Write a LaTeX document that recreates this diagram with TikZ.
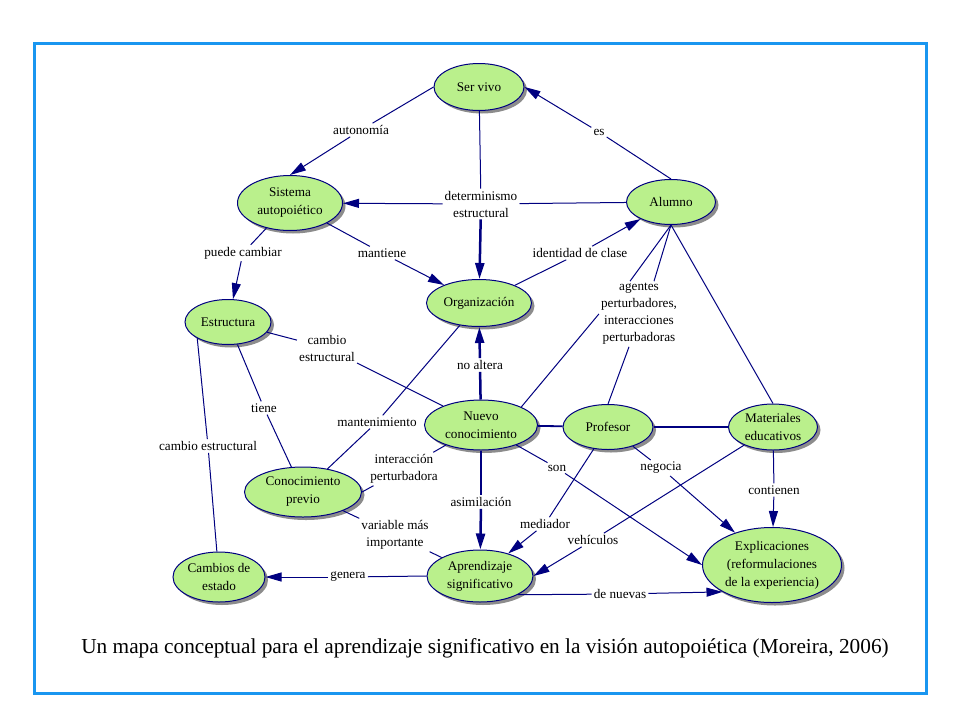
\documentclass[tikz,border=0pt]{standalone}
\usepackage{fontspec}
\setmainfont{Liberation Serif}
\usetikzlibrary{shapes.geometric,shadows,arrows.meta}
\definecolor{mapnavy}{RGB}{0,0,128}
\definecolor{mapgreen}{RGB}{186,240,140}
\definecolor{framecol}{RGB}{25,150,240}
\begin{document}
\begin{tikzpicture}[x=1pt,y=-1pt,
    concept/.style={ellipse,draw=mapnavy,line width=1pt,fill=mapgreen,inner sep=0pt,align=center,
        font=\fontsize{13.2}{18}\selectfont,
        drop shadow={shadow xshift=3pt,shadow yshift=-3pt,fill=black!45,opacity=1}},
    link/.style={inner sep=2pt,align=center,font=\fontsize{13.2}{17}\selectfont},
    rel/.style={draw=mapnavy,line width=1pt},
    relthick/.style={draw=mapnavy,line width=2.5pt},
    >={Triangle[length=16pt,width=9pt]}]
        \fill[white] (0,0) rectangle (960,720);
        \useasboundingbox (0,0) rectangle (960,720);
        \draw[framecol,line width=3pt] (34,43) rectangle (926,693);

        \node[concept,minimum width=90,minimum height=47] (servivo) at (479,87) {Ser vivo};
        \node[concept,minimum width=105,minimum height=55] (sistema) at (290,203) {Sistema\\autopoiético};
        \node[concept,minimum width=89,minimum height=45] (alumno) at (671,202) {Alumno};
        \node[concept,minimum width=105,minimum height=47] (organiz) at (479,303) {Organización};
        \node[concept,minimum width=86,minimum height=45] (estruct) at (228,322) {Estructura};
        \node[concept,minimum width=113,minimum height=50] (nuevo) at (481,425) {Nuevo\\conocimiento};
        \node[concept,minimum width=90,minimum height=45] (profesor) at (608,427) {Profesor};
        \node[concept,minimum width=89,minimum height=46] (material) at (773,427) {Materiales\\educativos};
        \node[concept,minimum width=117,minimum height=50] (previo) at (303,492) {Conocimiento\\previo};
        \node[concept,minimum width=92,minimum height=50] (cambios) at (219,577) {Cambios de\\estado};
        \node[concept,minimum width=106,minimum height=52] (aprend) at (480,576) {Aprendizaje\\significativo};
        \node[concept,minimum width=139,minimum height=75] (explic) at (772,565) {Explicaciones\\(reformulaciones\\de la experiencia)};

        \node[link] (autonomia) at (361,130) {autonomía};
        \node[link] (es) at (599,132) {es};
        \node[link] (determ) at (481,204) {determinismo\\estructural};
        \node[link] (mantiene) at (382,253) {mantiene};
        \node[link] (identidad) at (580,253) {identidad de clase};
        \node[link] (puede) at (243,253) {puede cambiar};
        \node[link] (cambioa) at (327,348) {cambio\\estructural};
        \node[link] (tiene) at (264,408) {tiene};
        \node[link] (cambiob) at (208,446) {cambio estructural};
        \node[link] (manten) at (377,422) {mantenimiento};
        \node[link] (noaltera) at (480,365) {no altera};
        \node[link] (agentes) at (639,314) {agentes\\perturbadores,\\interacciones\\perturbadoras};
        \node[link] (interac) at (404,469) {interacción\\perturbadora};
        \node[link] (variable) at (395,535) {variable más\\importante};
        \node[link] (asimil) at (481,502) {asimilación};
        \node[link] (genera) at (348,577) {genera};
        \node[link] (son) at (557,468) {son};
        \node[link] (negocia) at (661,468) {negocia};
        \node[link] (mediador) at (545,524) {mediador};
        \node[link] (vehic) at (593,540) {vehículos};
        \node[link] (contienen) at (774,490) {contienen};
        \node[link] (denuevas) at (620,594) {de nuevas};

        \draw[rel] (servivo.west) -- (autonomia);
        \draw[rel,->] (autonomia) -- (sistema.north);
        \draw[rel] (alumno.north) -- (es);
        \draw[rel,->] (es) -- (servivo.east);
        \draw[rel] (servivo) -- (determ);
        \draw[rel,->] (determ) -- (sistema);
        \draw[rel] (determ) -- (alumno);
        \draw[relthick,->] (determ) -- (organiz);
        \draw[rel] (sistema) -- (mantiene);
        \draw[rel,->] (mantiene) -- (organiz);
        \draw[rel] (organiz) -- (identidad);
        \draw[rel,->] (identidad) -- (alumno);
        \draw[rel] (sistema) -- (puede);
        \draw[rel,->] (puede) -- (estruct);
        \draw[rel] (estruct) -- (cambioa);
        \draw[rel] (cambioa) -- (nuevo);
        \draw[rel] (estruct) -- (tiene);
        \draw[rel] (tiene) -- (previo);
        \draw[rel] (estruct.south west) -- (cambiob);
        \draw[rel] (cambiob) -- (cambios);
        \draw[rel] (organiz) -- (manten);
        \draw[rel] (manten) -- (previo);
        \draw[relthick] (nuevo) -- (noaltera);
        \draw[relthick,->] (noaltera) -- (organiz);
        \draw[rel] (previo.east) -- (interac);
        \draw[rel] (interac) -- (nuevo);
        \draw[rel] (previo) -- (variable);
        \draw[rel] (variable) -- (aprend);
        \draw[relthick] (nuevo) -- (asimil);
        \draw[relthick,->] (asimil) -- (aprend);
        \draw[rel] (aprend.west) -- (genera);
        \draw[rel,->] (genera) -- (cambios.east);
        \draw[rel,line width=1.8pt] (nuevo) -- (profesor);
        \draw[relthick] (profesor) -- (material);
        \draw[rel] (nuevo) -- (son);
        \draw[rel,->] (son) -- (explic.west);
        \draw[rel] (profesor) -- (negocia);
        \draw[rel,->] (negocia) -- (explic);
        \draw[rel] (profesor) -- (mediador);
        \draw[rel,->] (mediador) -- (aprend);
        \draw[rel] (material) -- (vehic);
        \draw[rel,->] (vehic) -- (aprend.east);
        \draw[rel] (material) -- (contienen);
        \draw[rel,->] (contienen) -- (explic);
        \draw[rel] (aprend.south east) -- (denuevas);
        \draw[rel,->] (denuevas) -- (explic.south west);
        \draw[rel] (alumno.south) -- ([xshift=-9pt]agentes.north);
        \draw[rel] (alumno.south) -- ([xshift=15pt]agentes.north);
        \draw[rel] (agentes.west) -- (nuevo.north east);
        \draw[rel] ([xshift=-10pt]agentes.south) -- (profesor.north);
        \draw[rel] (alumno.south) -- (material.north);

        \node[font=\fontsize{21.3}{24}\selectfont] (caption) at (485,648)
            {Un mapa conceptual para el aprendizaje significativo en la visión autopoiética (Moreira, 2006)};
\end{tikzpicture}
\end{document}
